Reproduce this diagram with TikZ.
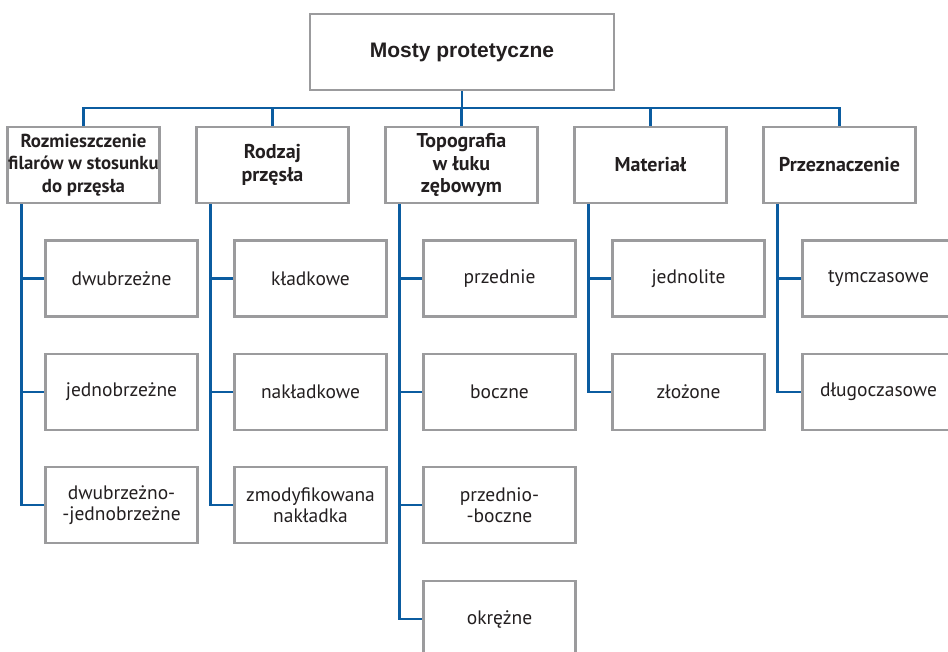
\documentclass[tikz,border=0pt]{standalone}
\usepackage{fontspec}
\setmainfont{PT Sans}
\newfontfamily\topfont{Liberation Sans}
\usetikzlibrary{calc}
\definecolor{conn}{HTML}{0B5CA0}
\definecolor{frame}{HTML}{9B9B9D}
\definecolor{ink}{HTML}{231F20}
\tikzset{
  box/.style={draw=frame, line width=2.6pt, fill=white, minimum width=152pt, minimum height=76pt, inner sep=0pt, align=center, text=ink},
  topbox/.style={box, minimum width=304pt, font=\topfont\bfseries\fontsize{21}{25}\selectfont},
  headbox/.style={box, font=\bfseries\fontsize{20}{22.5}\selectfont},
  narrowhead/.style={box, font=\bfseries\fontsize{18.8}{22.5}\selectfont},
  itembox/.style={box, font=\fontsize{19.5}{21.5}\selectfont},
  link/.style={draw=conn, line width=2.6pt, line join=miter}
}
\begin{document}
\begin{tikzpicture}[x=1pt,y=-1pt]
\clip (0,0) rectangle (948,651);
\node[topbox] (top) at (462,52) {Mosty protetyczne};
\node[narrowhead] (b1) at (83.5,165) {Rozmieszczenie\\filarów w stosunku\\do przęsła};
\node[headbox] (b2) at (272.5,165) {Rodzaj\\przęsła};
\node[headbox] (b3) at (461.5,165) {Topografia\\w łuku\\zębowym};
\node[headbox] (b4) at (650.5,165) {Materiał};
\node[headbox] (b5) at (839.5,165) {Przeznaczenie};
\coordinate (bus) at (462,108);
\draw[link] (top.south) -- (bus);
\foreach \b in {b1,b2,b3,b4,b5}{\draw[link] (\b.north) |- (bus);}
% children
\node[itembox] (c11) at (121.5,278.5) {dwubrzeżne};
\node[itembox] (c12) at (121.5,392) {jednobrzeżne};
\node[itembox] (c13) at (121.5,505) {dwubrzeżno-\\-jednobrzeżne};
\node[itembox] (c21) at (310.5,278.5) {kładkowe};
\node[itembox] (c22) at (310.5,392) {nakładkowe};
\node[itembox] (c23) at (310.5,505) {zmodyfikowana\\nakładka};
\node[itembox] (c31) at (499.5,278.5) {przednie};
\node[itembox] (c32) at (499.5,392) {boczne};
\node[itembox] (c33) at (499.5,505) {przednio-\\-boczne};
\node[itembox] (c34) at (499.5,619) {okrężne};
\node[itembox] (c41) at (688.5,278.5) {jednolite};
\node[itembox] (c42) at (688.5,392) {złożone};
\node[itembox] (c51) at (878.5,278.5) {tymczasowe};
\node[itembox] (c52) at (878.5,392) {długoczasowe};
\foreach \b in {b1,b2,b3,b4,b5}{\coordinate (s\b) at ($(\b.south west)+(15,0)$);}
\draw[link] (sb1) |- (c13.west);
\draw[link] (c11.west) -- (c11.west -| sb1);
\draw[link] (c12.west) -- (c12.west -| sb1);
\draw[link] (sb2) |- (c23.west);
\draw[link] (c21.west) -- (c21.west -| sb2);
\draw[link] (c22.west) -- (c22.west -| sb2);
\draw[link] (sb3) |- (c34.west);
\draw[link] (c31.west) -- (c31.west -| sb3);
\draw[link] (c32.west) -- (c32.west -| sb3);
\draw[link] (c33.west) -- (c33.west -| sb3);
\draw[link] (sb4) |- (c42.west);
\draw[link] (c41.west) -- (c41.west -| sb4);
\draw[link] (sb5) |- (c52.west);
\draw[link] (c51.west) -- (c51.west -| sb5);
\end{tikzpicture}
\end{document}
